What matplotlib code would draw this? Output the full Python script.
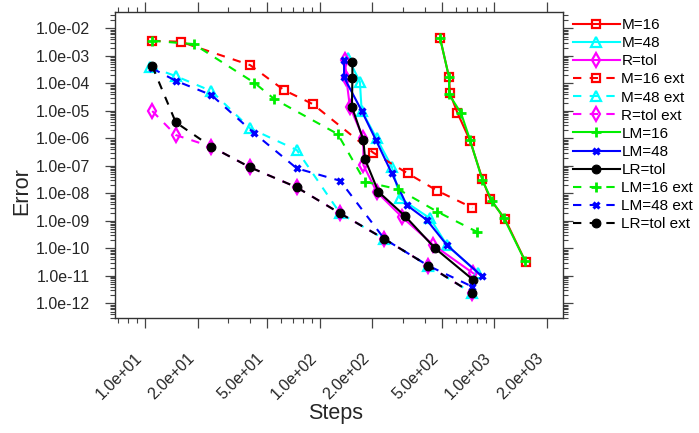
import matplotlib
matplotlib.use("Agg")
import matplotlib.pyplot as plt
from matplotlib.ticker import FixedLocator, NullFormatter

plt.rcParams['font.family'] = ['Liberation Sans', 'DejaVu Sans']

# ---- data (Steps, Error) ----
m16_x = [489, 551, 558, 615, 727, 855, 946, 1153, 1515]
m16_y = [4.55e-3, 1.65e-4, 4.33e-5, 8.53e-6, 8.18e-7, 3.31e-8, 6.21e-9, 1.16e-9, 3.10e-11]

m48_x = [146, 170, 174, 212, 259, 289, 429, 535, 811]
m48_y = [8.11e-4, 1.14e-4, 1.01e-5, 1.0e-6, 9.27e-8, 6.58e-9, 1.23e-9, 1.32e-10, 1.23e-11]

rtol_x = [140, 142, 149, 178, 178, 212, 295, 448, 759]
rtol_y = [7.03e-4, 1.6e-4, 1.41e-5, 1.0e-6, 1.07e-7, 1.14e-8, 1.41e-9, 1.32e-10, 1.23e-11]

m16e_x = [11, 16, 40, 62.5, 91.3, 203, 319.5, 472, 749]
m16e_y = [3.54e-3, 3.26e-3, 4.62e-4, 5.70e-5, 1.77e-5, 2.99e-7, 5.33e-8, 1.24e-8, 2.99e-9]

m48e_x = [10.7, 15, 24, 40, 74, 131, 235, 419, 749]
m48e_y = [4.01e-4, 1.84e-4, 5.25e-5, 2.31e-6, 3.76e-7, 1.87e-9, 2.18e-10, 2.33e-11, 2.31e-12]

rtole_x = [11, 15, 24, 40, 74, 131, 235, 419, 749]
rtole_y = [9.84e-6, 1.32e-6, 4.95e-7, 8.81e-8, 1.65e-8, 1.87e-9, 2.18e-10, 2.33e-11, 2.31e-12]

lm16_x = [489, 551, 551, 646, 727, 855, 968, 1138, 1501]
lm16_y = [4.55e-3, 1.65e-4, 3.98e-5, 8.11e-6, 8.67e-7, 3.05e-8, 5.38e-9, 1.23e-9, 3.45e-11]

lm48_x = [138, 138, 174, 210, 259, 315, 411, 535, 848]
lm48_y = [7.03e-4, 1.65e-4, 1.01e-5, 8.67e-7, 5.33e-8, 3.76e-9, 1.07e-9, 1.32e-10, 9.84e-12]

lrtol_x = [154, 154, 153, 178, 182, 217, 308, 458, 759]
lrtol_y = [6.10e-4, 1.52e-4, 1.41e-5, 8.67e-7, 1.72e-7, 1.14e-8, 1.50e-9, 1.0e-10, 7.03e-12]

lm16e_x = [11, 19, 42.3, 55, 127, 182, 282.5, 472, 794]
lm16e_y = [3.54e-3, 2.69e-3, 1.05e-4, 2.69e-5, 1.43e-6, 2.64e-8, 1.40e-8, 2.14e-9, 4.01e-10]

lm48e_x = [11, 15, 24, 42.3, 74, 131, 235, 419, 749]
lm48e_y = [3.51e-4, 1.24e-4, 3.76e-5, 1.52e-6, 8.11e-8, 2.87e-8, 2.18e-10, 2.33e-11, 4.02e-12]

lrtole_x = [11, 15, 24, 40, 74, 131, 235, 419, 749]
lrtole_y = [4.25e-4, 3.82e-6, 4.95e-7, 8.81e-8, 1.65e-8, 1.87e-9, 2.18e-10, 2.33e-11, 2.31e-12]

x_major = [10, 20, 50, 100, 200, 500, 1000, 2000]
x_major_labels = ["1.0e+01", "2.0e+01", "5.0e+01", "1.0e+02", "2.0e+02",
                  "5.0e+02", "1.0e+03", "2.0e+03"]
x_minor = [7, 8, 9, 30, 40, 60, 70, 80, 90, 300, 400, 600, 700, 800, 900]
y_exps = [-12, -11, -10, -9, -8, -7, -6, -5, -4, -3, -2]

# ---- figure ----
fig = plt.figure(figsize=(6.99, 4.33), dpi=100)
ax = fig.add_axes([0.1645, 0.2649, 0.806 - 0.1645, 0.9723 - 0.2649])

lw = 1.5
dash = (0, (4, 4))
hollow = dict(mfc='none', mew=1.6)
series = [
    (m16_x, m16_y, 'M=16', 'red', '-', 's', dict(ms=5.5, **hollow)),
    (m48_x, m48_y, 'M=48', 'cyan', '-', '^', dict(ms=7, **hollow)),
    (rtol_x, rtol_y, 'R=tol', 'magenta', '-', 'd', dict(ms=7.5, **hollow)),
    (m16e_x, m16e_y, 'M=16 ext', 'red', dash, 's', dict(ms=5.5, **hollow)),
    (m48e_x, m48e_y, 'M=48 ext', 'cyan', dash, '^', dict(ms=7, **hollow)),
    (rtole_x, rtole_y, 'R=tol ext', 'magenta', dash, 'd', dict(ms=7.5, **hollow)),
    (lm16_x, lm16_y, 'LM=16', '#00ee00', '-', '+', dict(ms=7.5, mew=2.0)),
    (lm48_x, lm48_y, 'LM=48', 'blue', '-', 'x', dict(ms=5, mew=2.3)),
    (lrtol_x, lrtol_y, 'LR=tol', 'black', '-', 'o', dict(ms=6.3, mew=0.8)),
    (lm16e_x, lm16e_y, 'LM=16 ext', '#00ee00', dash, '+', dict(ms=7.5, mew=2.0)),
    (lm48e_x, lm48e_y, 'LM=48 ext', 'blue', dash, 'x', dict(ms=5, mew=2.3)),
    (lrtole_x, lrtole_y, 'LR=tol ext', 'black', dash, 'o', dict(ms=6.3, mew=0.8)),
]
for xs, ys, lab, col, ls, mk, kw in series:
    ax.plot(xs, ys, color=col, linestyle=ls, linewidth=lw, marker=mk,
            markeredgecolor=col, label=lab, **kw)

ax.set_xscale('log')
ax.set_yscale('log')
ax.set_xlim(6.73, 2488)
ax.set_ylim(2.85e-13, 0.0395)

ax.xaxis.set_major_locator(FixedLocator(x_major))
ax.xaxis.set_minor_locator(FixedLocator(x_minor))
ax.set_xticks(x_major)
ax.set_xticklabels(x_major_labels, rotation=45, ha='right', va='top')
ax.xaxis.set_minor_formatter(NullFormatter())

y_major = [10.0 ** e for e in y_exps]
y_minor = [m * 10.0 ** e for e in range(-13, -1) for m in range(2, 10)]
ax.yaxis.set_major_locator(FixedLocator(y_major))
ax.yaxis.set_minor_locator(FixedLocator(y_minor))
ax.set_yticks(y_major)
ax.set_yticklabels(["1.0e%+03d" % e for e in y_exps])
ax.yaxis.set_minor_formatter(NullFormatter())

tick_col = '#444444'
ax.tick_params(axis='both', which='both', direction='out', color=tick_col,
               labelcolor='#262626', labelsize=11.5,
               top=True, right=True, bottom=True, left=True)
ax.tick_params(axis='both', which='major', length=7, width=0.9)
ax.tick_params(axis='both', which='minor', length=3.5, width=0.8)
ax.tick_params(axis='x', which='major', pad=16)
ax.tick_params(axis='y', which='major', pad=11)
ax.tick_params(axis='both', labeltop=False, labelright=False)

for sp in ax.spines.values():
    sp.set_color('#333333')
    sp.set_linewidth(1.0)

ax.set_xlabel('Steps', fontsize=15.5, color='#262626')
ax.set_ylabel('Error', fontsize=15.5, color='#262626')
ax.xaxis.set_label_coords(0.4925, -0.277)
ax.yaxis.set_label_coords(-0.185, 0.4156)

leg = fig.legend(loc='upper left', bbox_to_anchor=(573 / 699, 1 - 18.0 / 433),
                 frameon=False, fontsize=11, handlelength=3.05,
                 handletextpad=0.12, labelspacing=0.27, borderpad=0,
                 borderaxespad=0, numpoints=1)
for t in leg.get_texts():
    t.set_color('black')

fig.savefig('out.png', dpi=100)
